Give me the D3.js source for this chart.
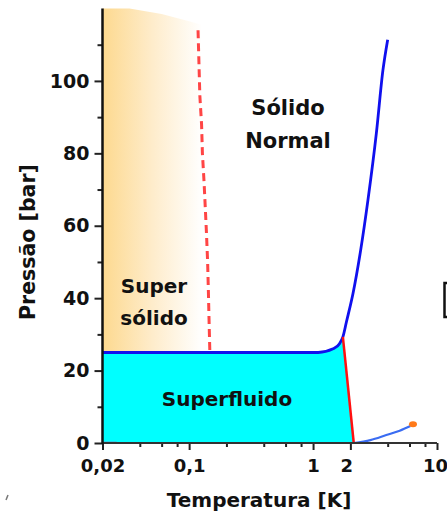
<!DOCTYPE html>
<html>
<head>
<meta charset="utf-8">
<script src="https://cdn.jsdelivr.net/npm/d3@7"></script>
<style>
  body { margin: 0; background: #fff; }
  svg text { font-family: "DejaVu Sans", sans-serif; font-weight: bold; fill: #111; }
</style>
</head>
<body>
<div id="chart"></div>
<script>
// Diagrama de fases do He-4 (escala log em T)

// ---- dados ----
var tempTicks = [0.02, 0.1, 1, 2, 10];
var tempTickLabels = ["0,02", "0,1", "1", "2", "10"];
var tempMinorTicks = [0.04, 0.06, 0.08, 0.2, 0.4, 0.6, 0.8, 4, 6, 8];
var pressTicks = [0, 20, 40, 60, 80, 100];
var pressMinorTicks = [10, 30, 50, 70, 90, 110];

// linha solido / liquido (T [K], P [bar])
var meltingCurve = [[0.02, 25], [0.5, 25], [1.1, 25], [1.45, 26], [1.64, 27.5], [1.74, 29.3],
  [1.86, 33.5], [2.10, 41.3], [2.42, 53.2], [2.77, 67], [3.24, 85.5], [3.66, 102.9], [4.0, 111.4]];
var kinkIndex = 5;
// linha lambda
var lambdaLine = [[1.74, 29.3], [2.13, 0]];
// curva de vapor
var vaporCurve = [[2.13, 0], [2.9, 0.8], [3.9, 2.2], [5.0, 3.4], [6.1, 4.7]];
var lowVapor = [[0.02, 0.15], [0.026, 0.15]];
var criticalPoint = [6.4, 5.2];
// limite do super solido (tracejado)
var supersolidLine = [[0.118, 114], [0.120, 105], [0.122, 96], [0.126, 88], [0.128, 80], [0.132, 72],
  [0.135, 65], [0.138, 58], [0.141, 50], [0.143, 42], [0.145, 33], [0.147, 25]];
// borda superior da regiao degrade
var supersolidTop = [[0.02, 120], [0.033, 120], [0.06, 118.5], [0.1, 116.5], [0.125, 115.5]];

// ---- layout ----
var w = 447, h = 517;
var svg = d3.select("#chart").append("svg").attr("width", w).attr("height", h);

var x = d3.scaleLog().domain([0.02, 10]).range([102.5, 437]);
var y = d3.scaleLinear().domain([0, 120]).range([443, 8.5]);

var line = d3.line().x(function(d) { return x(d[0]); }).y(function(d) { return y(d[1]); });
var curve = d3.line().x(function(d) { return x(d[0]); }).y(function(d) { return y(d[1]); })
  .curve(d3.curveMonotoneX);

// gradiente
var defs = svg.append("defs");
var grad = defs.append("linearGradient").attr("id", "ssGrad")
  .attr("gradientUnits", "userSpaceOnUse")
  .attr("x1", x(0.02)).attr("x2", x(0.128)).attr("y1", 0).attr("y2", 0);
grad.append("stop").attr("offset", 0).attr("stop-color", "#fdd98f");
grad.append("stop").attr("offset", 0.5).attr("stop-color", "#feeccb");
grad.append("stop").attr("offset", 1).attr("stop-color", "#ffffff");

var ssPoly = supersolidTop.concat([[0.125, 25], [0.02, 25]]);
svg.append("path").attr("d", line(ssPoly) + "Z").attr("fill", "url(#ssGrad)");

// superfluido
var sfPoly = [[0.02, 0]].concat(meltingCurve.slice(0, kinkIndex + 1)).concat([lambdaLine[1]]);
svg.append("path").attr("d", line(sfPoly) + "Z").attr("fill", "#00ffff");

// tracejado
svg.append("path").attr("d", line(supersolidLine))
  .attr("fill", "none").attr("stroke", "#ff4545").attr("stroke-width", 3)
  .attr("stroke-dasharray", "8,5");

// curvas
svg.append("path").attr("d", curve(meltingCurve))
  .attr("fill", "none").attr("stroke", "#1010ee").attr("stroke-width", 2.8);
svg.append("path").attr("d", line(lambdaLine))
  .attr("fill", "none").attr("stroke", "#ff1010").attr("stroke-width", 2.5);
svg.append("path").attr("d", curve(vaporCurve))
  .attr("fill", "none").attr("stroke", "#3a6cf2").attr("stroke-width", 2.2);
svg.append("path").attr("d", line(lowVapor))
  .attr("fill", "none").attr("stroke", "#9060a8").attr("stroke-width", 1.5);
svg.append("ellipse").attr("cx", x(criticalPoint[0])).attr("cy", y(criticalPoint[1]))
  .attr("rx", 4).attr("ry", 3).attr("fill", "#ff7a1a");

// eixos
var xAxis = svg.append("g").attr("transform", "translate(0," + y(0) + ")")
  .call(d3.axisBottom(x).tickValues(tempTicks).tickSize(7).tickPadding(9)
    .tickFormat(function(d, i) { return tempTickLabels[i]; }));
svg.append("g").attr("transform", "translate(0," + y(0) + ")")
  .call(d3.axisBottom(x).tickValues(tempMinorTicks).tickSize(4).tickFormat(""));

var yAxis = svg.append("g").attr("transform", "translate(" + x(0.02) + ",0)")
  .call(d3.axisLeft(y).tickValues(pressTicks).tickSize(8).tickPadding(5));
svg.append("g").attr("transform", "translate(" + x(0.02) + ",0)")
  .call(d3.axisLeft(y).tickValues(pressMinorTicks).tickSize(5).tickFormat(""));

svg.selectAll(".domain").remove();
svg.selectAll(".tick line").attr("stroke", "#222").attr("stroke-width", 2);
xAxis.selectAll("text").style("font-size", "18px").style("font-family", "DejaVu Sans").style("font-weight", "bold");
yAxis.selectAll("text").style("font-size", "19px").style("font-family", "DejaVu Sans").style("font-weight", "bold");
// "2" um pouco a esquerda, "10" encostado na borda
xAxis.selectAll(".tick text").attr("dx", function(d) { return d === 2 ? -4 : d === 10 ? -2 : 0; });

svg.append("line").attr("x1", x(0.02)).attr("x2", x(10)).attr("y1", y(0)).attr("y2", y(0))
  .attr("stroke", "#333").attr("stroke-width", 1.8);
svg.append("line").attr("x1", x(0.02)).attr("x2", x(0.02)).attr("y1", y(0) + 1).attr("y2", y(120))
  .attr("stroke", "#111").attr("stroke-width", 2.5);

// titulos
svg.append("text").attr("x", 259).attr("y", 507).attr("text-anchor", "middle")
  .style("font-size", "20px").text("Temperatura [K]");
svg.append("text").attr("transform", "translate(35,242) rotate(-90)").attr("text-anchor", "middle")
  .style("font-size", "20.5px").text("Pressão [bar]");

// rotulos das fases
function label(txt, cx, by, size) {
  svg.append("text").attr("x", cx).attr("y", by).attr("text-anchor", "middle")
    .style("font-size", size + "px").text(txt);
}
label("Sólido", 288, 115, 21);
label("Normal", 288, 148, 21);
label("Super", 154, 293, 20);
label("sólido", 154, 325, 20);
label("Superfluido", 227, 406, 20);

// marcas soltas da imagem original
svg.append("path").attr("d", "M447,283 H444.5 V317 H447").attr("fill", "none")
  .attr("stroke", "#111").attr("stroke-width", 2.5);
svg.append("line").attr("x1", 6).attr("y1", 500).attr("x2", 8).attr("y2", 495)
  .attr("stroke", "#777").attr("stroke-width", 1.5);
</script>
</body>
</html>
